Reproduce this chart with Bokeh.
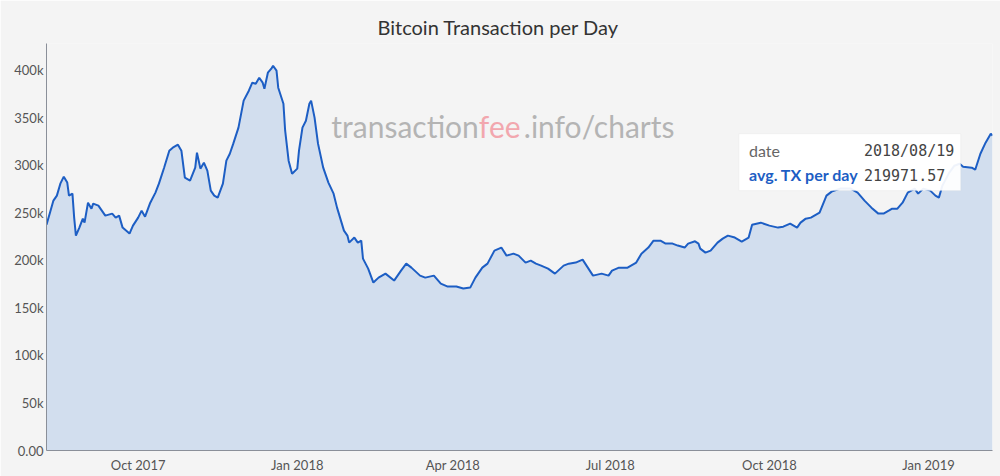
import pandas as pd
from bokeh.plotting import figure
from bokeh.models import FixedTicker, DatetimeTickFormatter, BoxAnnotation, Label, Range1d, ColumnDataSource
from bokeh.embed import file_html
from bokeh.resources import INLINE

# ---- data ----
dates = [
    "2017-08-09", "2017-08-11", "2017-08-13", "2017-08-15", "2017-08-17", "2017-08-19", "2017-08-21",
    "2017-08-22", "2017-08-24", "2017-08-25", "2017-08-26", "2017-08-28", "2017-08-30", "2017-08-31",
    "2017-09-02", "2017-09-04", "2017-09-05", "2017-09-08", "2017-09-12", "2017-09-16", "2017-09-18",
    "2017-09-20", "2017-09-22", "2017-09-26", "2017-09-28", "2017-10-01", "2017-10-03", "2017-10-05",
    "2017-10-08", "2017-10-11", "2017-10-13", "2017-10-16", "2017-10-19", "2017-10-21", "2017-10-24",
    "2017-10-26", "2017-10-28", "2017-10-31", "2017-11-03", "2017-11-04", "2017-11-06", "2017-11-08",
    "2017-11-10", "2017-11-12", "2017-11-14", "2017-11-16", "2017-11-19", "2017-11-21", "2017-11-23",
    "2017-11-25", "2017-11-28", "2017-12-01", "2017-12-04", "2017-12-06", "2017-12-08", "2017-12-10",
    "2017-12-12", "2017-12-13", "2017-12-15", "2017-12-17", "2017-12-18", "2017-12-20", "2017-12-21",
    "2017-12-24", "2017-12-25", "2017-12-27", "2017-12-29", "2018-01-01", "2018-01-02", "2018-01-04",
    "2018-01-06", "2018-01-08", "2018-01-09", "2018-01-11", "2018-01-13", "2018-01-16", "2018-01-19",
    "2018-01-22", "2018-01-24", "2018-01-28", "2018-01-30", "2018-01-31", "2018-02-03", "2018-02-05",
    "2018-02-07", "2018-02-08", "2018-02-11", "2018-02-14", "2018-02-17", "2018-02-21", "2018-02-26",
    "2018-03-02", "2018-03-05", "2018-03-08", "2018-03-13", "2018-03-16", "2018-03-21", "2018-03-25",
    "2018-03-29", "2018-04-03", "2018-04-07", "2018-04-11", "2018-04-14", "2018-04-18", "2018-04-21",
    "2018-04-25", "2018-04-29", "2018-05-02", "2018-05-06", "2018-05-09", "2018-05-13", "2018-05-16",
    "2018-05-19", "2018-05-22", "2018-05-26", "2018-05-30", "2018-06-04", "2018-06-07", "2018-06-11",
    "2018-06-15", "2018-06-18", "2018-06-21", "2018-06-26", "2018-06-30", "2018-07-02", "2018-07-06",
    "2018-07-11", "2018-07-16", "2018-07-19", "2018-07-23", "2018-07-26", "2018-07-30", "2018-08-02",
    "2018-08-06", "2018-08-09", "2018-08-13", "2018-08-15", "2018-08-19", "2018-08-21", "2018-08-22",
    "2018-08-25", "2018-08-28", "2018-09-01", "2018-09-04", "2018-09-07", "2018-09-11", "2018-09-15",
    "2018-09-19", "2018-09-21", "2018-09-26", "2018-10-01", "2018-10-06", "2018-10-09", "2018-10-13",
    "2018-10-17", "2018-10-19", "2018-10-22", "2018-10-25", "2018-10-27", "2018-10-30", "2018-11-03",
    "2018-11-06", "2018-11-11", "2018-11-17", "2018-11-21", "2018-11-25", "2018-11-29", "2018-12-03",
    "2018-12-06", "2018-12-09", "2018-12-11", "2018-12-14", "2018-12-17", "2018-12-20", "2018-12-24",
    "2018-12-26", "2018-12-29", "2019-01-02", "2019-01-05", "2019-01-07", "2019-01-09", "2019-01-13",
    "2019-01-16", "2019-01-19", "2019-01-21", "2019-01-26", "2019-01-28", "2019-01-31", "2019-02-03",
    "2019-02-06", "2019-02-07",
]
tx_per_day = [
    237500, 250100, 262800, 268000, 280600, 288000, 281700,
    268000, 270100, 244900, 226000, 234400, 243800, 239600,
    260600, 254300, 259600, 257500, 247000, 249100, 244900,
    247000, 234400, 228100, 236500, 244900, 252200, 245900,
    260600, 271200, 280600, 297400, 315300, 318500, 321600,
    315300, 286900, 283800, 297400, 313200, 296400, 302700,
    294300, 273300, 268000, 265900, 280600, 304800, 312100,
    322700, 339500, 367900, 378400, 386800, 385700, 392000,
    386800, 380500, 397300, 401500, 404600, 399400, 381500,
    364700, 336300, 304800, 291100, 296400, 315300, 339500,
    346800, 364700, 367900, 350000, 322700, 297400, 281700,
    270100, 255400, 231200, 226000, 218600, 223900, 218600,
    220700, 201800, 191300, 176600, 181800, 186000, 178700,
    189200, 196500, 192300, 183900, 181800, 183900, 175500,
    172400, 172400, 170300, 171300, 181800, 192300, 196500,
    210200, 213400, 204900, 207000, 204900, 197600, 199700,
    196500, 194400, 191300, 186000, 194400, 196500, 197600,
    200700, 192300, 183900, 186000, 183900, 189200, 192300,
    192300, 197600, 207000, 213400, 220700, 220700, 217600,
    217600, 215500, 213400, 217600, 219972, 217600, 212300,
    208100, 210200, 218600, 222800, 226000, 223900, 219700,
    223900, 237500, 239600, 236500, 234400, 235400, 238600,
    234400, 239600, 243800, 244900, 247000, 250100, 268000,
    272200, 275400, 275400, 271200, 262800, 255400, 249100,
    249100, 252200, 254300, 254300, 260600, 271200, 275400,
    270100, 275400, 273300, 268000, 265900, 278500, 292200,
    299500, 301600, 298500, 297400, 295300, 312100, 323700,
    333200, 331100,
]

y_ticks = [0, 50000, 100000, 150000, 200000, 250000, 300000, 350000, 400000]
y_tick_labels = ["0.00", "50k", "100k", "150k", "200k", "250k", "300k", "350k", "400k"]
x_ticks = ["2017-10-01", "2018-01-01", "2018-04-01", "2018-07-01", "2018-10-01", "2019-01-01"]

title_text = "Bitcoin Transaction per Day"
tooltip_date = "2018/08/19"
tooltip_value = "219971.57"


def ms(s):
    return pd.Timestamp(s).value / 1e6


BG = "#f4f4f4"
LINE = "#1d5ec4"
FILL = "#d2deee"
FONT = "Lato"

x = pd.to_datetime(dates)
src = ColumnDataSource(dict(x=x, y=tx_per_day))

p = figure(width=1000, height=476, x_axis_type="datetime",
           output_backend="svg", toolbar_location=None,
           x_range=Range1d(ms(dates[0]), ms(dates[-1])),
           y_range=Range1d(0, 428000),
           min_border_left=46, min_border_right=8, min_border_top=43, min_border_bottom=26)

p.background_fill_color = BG
p.border_fill_color = BG
p.outline_line_color = None
p.xgrid.grid_line_color = None
p.ygrid.grid_line_color = None

p.title.text = title_text
p.title.align = "left"
p.title.offset = 331
p.title.text_font = FONT
p.title.text_font_size = "20px"
p.title.text_font_style = "normal"
p.title.text_color = "#333333"

p.varea(x="x", y1=0, y2="y", source=src, fill_color=FILL)
p.line(x="x", y="y", source=src, line_color=LINE, line_width=2)

# axes
p.yaxis.ticker = FixedTicker(ticks=y_ticks)
p.yaxis.major_label_overrides = {t: l for t, l in zip(y_ticks, y_tick_labels)}
p.xaxis.ticker = FixedTicker(ticks=[ms(t) for t in x_ticks])
fmt = "%b %Y"
p.xaxis.formatter = DatetimeTickFormatter(days=fmt, months=fmt, years=fmt, hours=fmt)
for ax in (p.xaxis[0], p.yaxis[0]):
    ax.major_tick_line_color = None
    ax.minor_tick_line_color = None
    ax.major_tick_out = 0
    ax.major_tick_in = 0
    ax.major_label_standoff = 3
    ax.major_label_text_font = FONT
    ax.major_label_text_font_size = "13px"
    ax.major_label_text_color = "#555555"
    ax.axis_line_color = "#8a8f99"
    ax.axis_line_width = 1
p.xaxis.major_label_standoff = 6

# watermark
wm_y = 341000
p.add_layout(Label(x=ms("2018-04-16"), y=wm_y, text="transaction", text_align="right",
                   text_baseline="middle", text_font=FONT, text_font_size="30px", text_color="#b4b4b4"))
p.add_layout(Label(x=ms("2018-04-16"), y=wm_y, text="fee", text_align="left",
                   text_baseline="middle", text_font=FONT, text_font_size="30px", text_color="#f2a7ae"))
p.add_layout(Label(x=ms("2018-05-12"), y=wm_y, text=".info/charts", text_align="left",
                   text_baseline="middle", text_font=FONT, text_font_size="30px", text_color="#b4b4b4"))

# tooltip box
p.add_layout(BoxAnnotation(left=ms("2018-09-13 10:00"), right=ms("2019-01-19 14:00"),
                           bottom=273300, top=333200, fill_color="white", fill_alpha=0.93,
                           line_color="#e6e6e6", line_width=1))
p.add_layout(Label(x=ms("2018-09-19 05:00"), y=315300, text="date", text_baseline="middle",
                   text_font=FONT, text_font_size="16px", text_color="#666666"))
p.add_layout(Label(x=ms("2018-11-24 16:00"), y=315300, text=tooltip_date, text_baseline="middle",
                   text_font="DejaVu Sans Mono", text_font_size="15px", text_color="#444444"))
p.add_layout(Label(x=ms("2018-09-19 05:00"), y=290100, text="avg. TX per day", text_baseline="middle",
                   text_font=FONT, text_font_size="16px", text_font_style="bold", text_color="#1d5ec4"))
p.add_layout(Label(x=ms("2018-11-24 16:00"), y=290100, text=tooltip_value, text_baseline="middle",
                   text_font="DejaVu Sans Mono", text_font_size="15px", text_color="#444444"))

open("out.html", "w").write(file_html(p, INLINE))
